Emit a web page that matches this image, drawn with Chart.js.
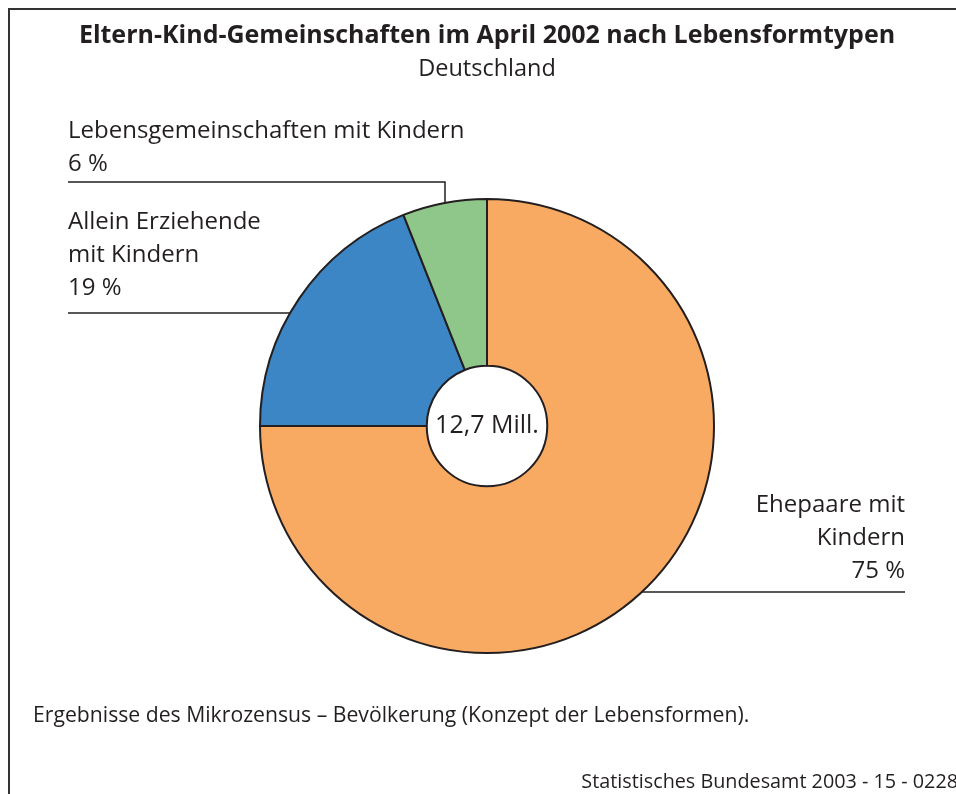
<!DOCTYPE html>
<html lang="de">
<head>
<meta charset="utf-8">
<title>Eltern-Kind-Gemeinschaften im April 2002</title>
<script src="https://cdn.jsdelivr.net/npm/chart.js@4.4.1/dist/chart.umd.min.js"></script>
<style>
  html, body { margin: 0; padding: 0; background: #fff; }
  #wrap { position: relative; width: 956px; height: 794px; }
</style>
</head>
<body>
<div id="wrap"><canvas id="pie" width="956" height="794"></canvas></div>
<script>
var categories = ['Ehepaare mit Kindern', 'Allein Erziehende mit Kindern', 'Lebensgemeinschaften mit Kindern'];
var shares = [75, 19, 6];
var colors = ['#F8AA63', '#3C86C6', '#8FC78A'];
var totalLabel = '12,7 Mill.';

var title = 'Eltern-Kind-Gemeinschaften im April 2002 nach Lebensformtypen';
var subtitle = 'Deutschland';
var note = 'Ergebnisse des Mikrozensus – Bevölkerung (Konzept der Lebensformen).';
var source = 'Statistisches Bundesamt 2003 - 15 - 0228';

var FONT = '"Open Sans", "DejaVu Sans", sans-serif';
var INK = '#231f20';

// beschriftungen: textzeilen, position, ausrichtung, hoehe der fuehrungslinie
var labelLayout = [
  { lines: ['Ehepaare mit', 'Kindern', shares[0] + ' %'], x: 905, y: 505, align: 'right', lineY: 592, lineEnd: 905 },
  { lines: ['Allein Erziehende', 'mit Kindern', shares[1] + ' %'], x: 68, y: 222, align: 'left', lineY: 313, lineEnd: 68 },
  { lines: ['Lebensgemeinschaften mit Kindern', shares[2] + ' %'], x: 68, y: 131, align: 'left', lineY: 182, lineEnd: 68, vertX: 445 }
];

var decor = {
  id: 'decor',
  beforeDraw: function(chart) {
    var c = chart.ctx;
    c.save();
    c.fillStyle = '#fff';
    c.fillRect(0, 0, chart.width, chart.height);
    // rahmen
    c.strokeStyle = '#333';
    c.lineWidth = 2;
    c.beginPath();
    c.moveTo(9, chart.height);
    c.lineTo(9, 9);
    c.lineTo(chart.width, 9);
    c.stroke();
    c.restore();
  },
  afterDraw: function(chart) {
    var c = chart.ctx;
    var arc = chart.getDatasetMeta(0).data[0];
    var cx = arc.x, cy = arc.y, r = arc.outerRadius;
    c.save();
    c.fillStyle = INK;
    c.textBaseline = 'middle';

    c.textAlign = 'center';
    c.font = 'bold 25px ' + FONT;
    c.fillText(title, 487, 36);
    c.font = '23.5px ' + FONT;
    c.fillText(subtitle, 487, 69);

    // mitte
    c.font = '25px ' + FONT;
    c.fillText(totalLabel, cx, cy);

    c.strokeStyle = INK;
    c.lineWidth = 1.5;
    labelLayout.forEach(function(l) {
      c.textAlign = l.align;
      c.font = '24px ' + FONT;
      l.lines.forEach(function(t, i) {
        c.fillText(t, l.x, l.y + i * 33);
      });
      c.beginPath();
      if (l.vertX) {
        var dx = l.vertX - cx;
        var edgeY = cy - Math.sqrt(r * r - dx * dx);
        c.moveTo(l.lineEnd, l.lineY);
        c.lineTo(l.vertX, l.lineY);
        c.lineTo(l.vertX, edgeY);
      } else {
        var dy = l.lineY - cy;
        var half = Math.sqrt(r * r - dy * dy);
        var edgeX = l.align === 'right' ? cx + half : cx - half;
        c.moveTo(l.lineEnd, l.lineY);
        c.lineTo(edgeX, l.lineY);
      }
      c.stroke();
    });

    c.textAlign = 'left';
    c.font = '21.2px ' + FONT;
    c.fillText(note, 33, 716);
    c.textAlign = 'right';
    c.font = '19.8px ' + FONT;
    c.fillText(source, 958, 782);
    c.restore();
  }
};

var ctx = document.getElementById('pie').getContext('2d');
var pieChart = new Chart(ctx, {
  type: 'doughnut',
  data: {
    labels: categories,
    datasets: [{
      data: shares,
      backgroundColor: colors,
      borderColor: INK,
      borderWidth: 2,
      hoverOffset: 0
    }]
  },
  options: {
    responsive: false,
    animation: false,
    radius: 227,
    cutout: 60,
    events: [],
    layout: { padding: { left: 260, right: 242, top: 199, bottom: 141 } },
    plugins: {
      legend: { display: false },
      tooltip: { enabled: false },
      title: { display: false }
    }
  },
  plugins: [decor]
});
</script>
</body>
</html>
